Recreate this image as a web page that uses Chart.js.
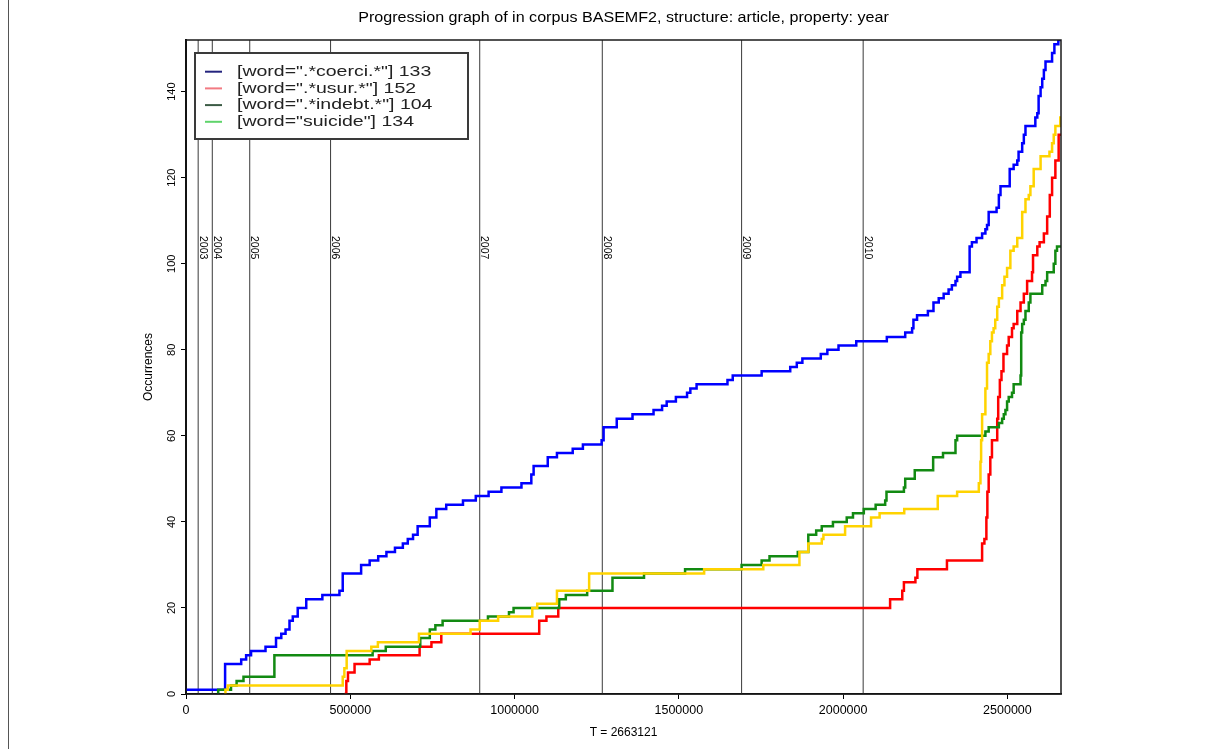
<!DOCTYPE html>
<html><head><meta charset="utf-8">
<script src="https://cdn.jsdelivr.net/npm/chart.js@4.4.1/dist/chart.umd.min.js"></script>
<style>html,body{margin:0;padding:0;background:#fff;}canvas{display:block;}</style>
</head><body>
<canvas id="c" width="1214" height="749"></canvas>
<script>
// ---------- data ----------
const T = 2663121;
const titleText = 'Progression graph of in corpus BASEMF2, structure: article, property: year';
const yLabel = 'Occurrences';
const xTickValues = [0, 500000, 1000000, 1500000, 2000000, 2500000];
const yTickValues = [0, 20, 40, 60, 80, 100, 120, 140];
const yearLabels = ['2003','2004','2005','2006','2007','2008','2009','2010'];
const yearPositions = [37000, 80000, 194000, 440000, 894000, 1267000, 1691000, 2061000];
const seriesLabels = ['[word=".*coerci.*"] 133', '[word=".*usur.*"] 152', '[word=".*indebt.*"] 104', '[word="suicide"] 134'];

const coerciX = [0,119000,168000,183000,198000,242000,274000,290000,303000,315000,325000,340000,366000,415000,467000,477000,533000,559000,585000,610000,636000,660000,675000,691000,705000,742000,762000,792000,843000,882000,921000,960000,1021000,1051000,1058000,1101000,1129000,1177000,1208000,1265000,1271000,1311000,1359000,1423000,1449000,1463000,1491000,1525000,1535000,1554000,1648000,1664000,1752000,1839000,1859000,1876000,1932000,1952000,1986000,2040000,2133000,2189000,2210000,2214000,2225000,2258000,2275000,2291000,2306000,2321000,2331000,2342000,2347000,2357000,2385000,2392000,2406000,2423000,2433000,2438000,2443000,2467000,2474000,2479000,2507000,2519000,2530000,2534000,2545000,2550000,2555000,2585000,2591000,2595000,2601000,2606000,2611000,2616000,2636000,2643000,2655000,2663121];
const coerciY = [1,7,8,9,10,11,13,14,15,17,18,20,22,23,24,28,30,31,32,33,34,35,36,37,39,41,43,44,45,46,47,48,49,51,53,55,56,57,58,59,62,64,65,66,67,68,69,70,71,72,73,74,75,76,77,78,79,80,81,82,83,84,85,87,88,89,91,92,93,94,95,96,97,98,104,105,106,107,108,109,112,113,116,118,122,123,124,126,128,130,132,134,135,139,141,143,145,147,149,151,152,152];

const usurX = [482000,488000,493000,513000,559000,587000,711000,747000,777000,1075000,1097000,1133000,2143000,2180000,2185000,2220000,2226000,2316000,2423000,2430000,2436000,2439000,2443000,2448000,2453000,2469000,2472000,2477000,2482000,2488000,2499000,2504000,2514000,2519000,2530000,2540000,2550000,2560000,2575000,2578000,2591000,2598000,2611000,2621000,2629000,2636000,2646000,2656000,2663121];
const usurY = [0,3,5,7,8,9,11,12,14,17,18,20,22,24,26,27,29,31,35,36,41,47,51,55,59,64,69,73,75,79,81,83,85,86,89,91,93,96,98,102,104,105,107,111,116,120,124,130,130];

const indebtX = [98000,98000,137000,154000,175000,269000,568000,608000,713000,742000,759000,781000,919000,983000,997000,1136000,1156000,1221000,1298000,1394000,1519000,1691000,1752000,1776000,1862000,1894000,1918000,1935000,1969000,2011000,2030000,2063000,2099000,2128000,2132000,2185000,2189000,2218000,2274000,2304000,2342000,2347000,2433000,2443000,2474000,2484000,2489000,2494000,2499000,2504000,2514000,2519000,2540000,2542000,2545000,2550000,2555000,2565000,2570000,2606000,2616000,2621000,2641000,2646000,2651000,2663121];
const indebtY = [0,1,2,3,4,9,10,11,13,15,16,17,18,19,20,22,23,24,27,28,29,30,31,32,33,37,38,39,40,41,42,43,44,45,47,48,50,52,55,56,59,60,61,62,63,64,65,66,68,69,70,72,74,84,86,87,89,91,93,95,96,98,100,103,104,104];

const suicideX = [120000,120000,127000,477000,482000,489000,564000,584000,709000,866000,894000,950000,1054000,1069000,1129000,1227000,1577000,1757000,1867000,1894000,1935000,1940000,2006000,2085000,2111000,2186000,2288000,2347000,2413000,2418000,2420000,2423000,2433000,2438000,2443000,2448000,2453000,2458000,2463000,2469000,2474000,2484000,2491000,2499000,2509000,2519000,2530000,2545000,2555000,2565000,2570000,2580000,2601000,2628000,2636000,2641000,2646000,2661000,2663121];
const suicideY = [0,1,2,4,6,10,11,12,14,15,17,18,20,21,24,28,29,30,33,35,36,37,39,41,42,43,46,47,49,54,59,65,71,77,79,82,84,85,87,90,92,95,97,99,103,104,106,112,115,116,118,122,125,126,128,130,132,134,134];

const lineColors = ['#0000ff', '#ff0000', '#128a12', '#ffd300'];
const legendColors = ['#24247e', '#f27a82', '#3b5b45', '#5fd46b'];

// ---------- helpers ----------
const FONT = '"Liberation Sans", Arial, Helvetica, sans-serif';
const pts = (xs, ys) => xs.map((x, i) => ({x: x, y: ys[i]}));
const seriesX = [coerciX, usurX, indebtX, suicideX];
const seriesY = [coerciY, usurY, indebtY, suicideY];

const datasets = [];
yearPositions.forEach((p, i) => {
  datasets.push({label: yearLabels[i], data: [{x: p, y: 0}, {x: p, y: 152}],
    borderColor: '#3a3a3a', borderWidth: 1, pointRadius: 0, order: 10, stepped: false});
});
seriesLabels.forEach((lab, i) => {
  datasets.push({label: lab, data: pts(seriesX[i], seriesY[i]), borderColor: lineColors[i],
    borderWidth: 2.5, pointRadius: 0, stepped: 'before', order: 4 - i, fill: false});
});

const decor = {
  id: 'decor',
  afterDatasetsDraw(chart) {
    const {ctx, chartArea: a, scales: {x}} = chart;
    // year labels
    ctx.save();
    ctx.fillStyle = '#000';
    ctx.font = '10.5px ' + FONT;
    ctx.textBaseline = 'alphabetic';
    yearLabels.forEach((lab, i) => {
      const px = x.getPixelForValue(yearPositions[i]);
      ctx.save();
      ctx.translate(px + 1.5, a.top + 196);
      ctx.rotate(Math.PI / 2);
      ctx.fillText(lab, 0, 0);
      ctx.restore();
    });
    ctx.restore();
    // plot box
    ctx.save();
    ctx.strokeStyle = '#1a1a1a';
    ctx.lineWidth = 1.5;
    ctx.strokeRect(a.left, a.top, a.right - a.left, a.bottom - a.top);
    ctx.restore();
    // legend
    const lx = a.left + 9, ly = a.top + 13, lw = 273, lh = 86;
    ctx.save();
    ctx.fillStyle = '#fff';
    ctx.fillRect(lx, ly, lw, lh);
    ctx.strokeStyle = '#3a3a3a';
    ctx.lineWidth = 2;
    ctx.strokeRect(lx, ly, lw, lh);
    seriesLabels.forEach((lab, i) => {
      const y = ly + 18.7 + i * 16.7;
      ctx.beginPath();
      ctx.strokeStyle = legendColors[i];
      ctx.lineWidth = 2;
      ctx.moveTo(lx + 10, y);
      ctx.lineTo(lx + 27, y);
      ctx.stroke();
      ctx.save();
      ctx.translate(lx + 42, y);
      ctx.scale(1.3, 1);
      ctx.fillStyle = '#222';
      ctx.font = '15px ' + FONT;
      ctx.textBaseline = 'middle';
      ctx.fillText(lab, 0, 0);
      ctx.restore();
    });
    ctx.restore();
  },
  afterDraw(chart) {
    const {ctx, chartArea: a} = chart;
    ctx.save();
    ctx.translate((a.left + a.right) / 2, 18);
    ctx.scale(1.15, 1);
    ctx.fillStyle = '#000';
    ctx.font = '14px ' + FONT;
    ctx.textAlign = 'center';
    ctx.textBaseline = 'middle';
    ctx.fillText(titleText, 0, 0);
    ctx.restore();
    ctx.save();
    ctx.fillStyle = '#555';
    ctx.fillRect(8, 0, 1, chart.height);
    ctx.restore();
  }
};

new Chart(document.getElementById('c'), {
  type: 'line',
  data: {datasets: datasets},
  options: {
    responsive: false,
    animation: false,
    devicePixelRatio: 1,
    layout: {padding: {left: 120, right: 153, top: 40, bottom: 0}},
    plugins: {legend: {display: false}, tooltip: {enabled: false}, title: {display: false}},
    scales: {
      x: {
        type: 'linear', min: 0, max: T, position: 'bottom',
        afterFit(s) { s.height = 55; },
        afterBuildTicks(s) { s.ticks = xTickValues.map(v => ({value: v})); },
        grid: {drawOnChartArea: false, drawTicks: true, tickLength: 5, color: '#000'},
        border: {display: true, color: '#000', width: 1.5},
        ticks: {autoSkip: false, maxRotation: 0, minRotation: 0,
          color: '#000', font: {family: FONT, size: 12.5}, padding: 4, callback: v => String(v)},
        title: {display: true, text: 'T = ' + T, color: '#000', font: {family: FONT, size: 12}, padding: {top: 0, bottom: 9}}
      },
      y: {
        type: 'linear', min: 0, max: 152, position: 'left',
        afterFit(s) { s.width = 66; },
        afterBuildTicks(s) { s.ticks = yTickValues.map(v => ({value: v})); },
        grid: {drawOnChartArea: false, drawTicks: true, tickLength: 5, color: '#000'},
        border: {display: true, color: '#000', width: 2},
        ticks: {autoSkip: false, minRotation: 90, maxRotation: 90,
          crossAlign: 'center', color: '#000', font: {family: FONT, size: 11}, padding: 0, callback: v => String(v)},
        title: {display: true, text: yLabel, color: '#000', font: {family: FONT, size: 12}, padding: {top: 21, bottom: 0}}
      }
    }
  },
  plugins: [decor]
});
</script>
</body></html>
